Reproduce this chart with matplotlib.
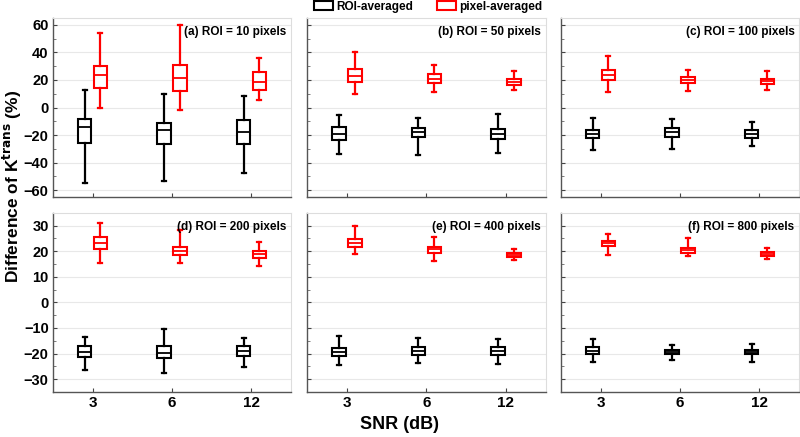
import matplotlib.pyplot as plt
from matplotlib.patches import Patch
from matplotlib.ticker import MultipleLocator

plt.rcParams['font.family'] = ['Liberation Sans', 'DejaVu Sans']
plt.rcParams['font.weight'] = 'bold'
plt.rcParams['mathtext.default'] = 'bf'

snr = ['3', '6', '12']
titles = ['(a) ROI = 10 pixels', '(b) ROI = 50 pixels', '(c) ROI = 100 pixels',
          '(d) ROI = 200 pixels', '(e) ROI = 400 pixels', '(f) ROI = 800 pixels']

# each box: [whisker low, q1, median, q3, whisker high], one per SNR
roi_avg = [
    [[-54.6, -26.0, -14.2, -8.0, 12.5], [-53.5, -26.8, -16.6, -11.0, 10.0], [-47.6, -26.5, -17.5, -9.3, 8.4]],
    [[-34.0, -23.9, -19.0, -14.2, -5.5], [-34.3, -21.2, -17.8, -14.6, -7.9], [-33.0, -23.1, -19.3, -15.6, -4.4]],
    [[-30.9, -22.2, -19.3, -16.1, -7.9], [-29.9, -21.2, -18.0, -14.6, -8.6], [-28.0, -22.4, -19.3, -16.4, -10.5]],
    [[-26.6, -21.4, -19.3, -17.2, -13.6], [-27.4, -21.9, -19.6, -17.0, -10.3], [-25.3, -20.9, -18.8, -17.2, -13.8]],
    [[-24.5, -20.9, -19.3, -17.9, -13.2], [-23.5, -20.5, -19.0, -17.5, -13.8], [-24.0, -20.7, -19.0, -17.6, -14.3]],
    [[-23.2, -20.1, -18.8, -17.6, -14.3], [-22.4, -20.3, -19.3, -18.4, -16.6], [-23.4, -20.2, -19.3, -18.5, -16.2]],
]
pix_avg = [
    [[0.0, 14.0, 23.4, 30.2, 54.2], [-1.8, 11.8, 21.2, 30.5, 60.0], [5.5, 12.7, 18.5, 25.8, 36.0]],
    [[10.1, 18.8, 22.9, 27.8, 40.6], [11.3, 17.6, 21.0, 24.1, 30.7], [12.5, 16.1, 18.5, 21.0, 26.5]],
    [[11.6, 19.8, 23.4, 27.0, 37.5], [11.8, 17.6, 20.0, 22.2, 27.3], [12.7, 16.9, 19.0, 20.7, 26.5]],
    [[15.3, 20.8, 23.1, 25.5, 30.9], [15.4, 18.4, 20.1, 21.7, 28.3], [14.2, 17.5, 18.8, 20.0, 23.5]],
    [[18.8, 21.5, 23.2, 24.8, 29.9], [16.2, 19.4, 20.9, 21.8, 25.7], [16.6, 17.7, 18.6, 19.4, 20.8]],
    [[18.5, 22.2, 23.1, 24.0, 26.8], [18.1, 19.4, 20.4, 21.3, 25.1], [16.8, 18.1, 18.9, 19.6, 21.3]],
]

fig = plt.figure(figsize=(8, 4.37), dpi=100)

lefts = [0.066, 0.384, 0.701]
bottoms = [0.549, 0.103]
w, h = 0.298, 0.410


def make_stats(boxes):
    out = []
    for b in boxes:
        out.append({'whislo': b[0], 'q1': b[1], 'med': b[2], 'q3': b[3], 'whishi': b[4], 'fliers': []})
    return out


for i in range(6):
    r, c = divmod(i, 3)
    ax = fig.add_axes([lefts[c], bottoms[r], w, h])
    for data, off, col in [(roi_avg[i], -0.1, 'black'), (pix_avg[i], 0.1, 'red')]:
        pos = [k + 1 + off for k in range(3)]
        ax.bxp(make_stats(data), positions=pos, widths=0.17, patch_artist=True,
               boxprops=dict(facecolor='white', edgecolor=col, linewidth=1.5),
               medianprops=dict(color=col, linewidth=1.3),
               whiskerprops=dict(color=col, linewidth=1.6),
               capprops=dict(color=col, linewidth=1.6), capwidths=0.05,
               showfliers=False, manage_ticks=False)
    ax.set_xlim(0.5, 3.5)
    ax.set_xticks([1, 2, 3])
    if r == 0:
        ax.set_ylim(-65, 65)
        ax.yaxis.set_major_locator(MultipleLocator(20))
        ax.yaxis.set_minor_locator(MultipleLocator(10))
        ax.set_xticklabels([])
    else:
        ax.set_ylim(-35, 35)
        ax.yaxis.set_major_locator(MultipleLocator(10))
        ax.yaxis.set_minor_locator(MultipleLocator(5))
        ax.set_xticklabels(snr, fontsize=11, fontweight='bold')
    if c != 0:
        ax.set_yticklabels([])
    else:
        for t in ax.get_yticklabels():
            t.set_fontsize(10.5)
            t.set_fontweight('bold')
    ax.tick_params(direction='in', length=3, width=0.8, colors='#444444', labelcolor='black', pad=3)
    ax.tick_params(which='minor', direction='in', length=2, width=0.6, colors='#666666')
    ax.grid(axis='y', color='#e8e8e8', linewidth=0.8)
    ax.set_axisbelow(True)
    for s in ['top', 'right']:
        ax.spines[s].set_color('#dddddd')
    for s in ['left', 'bottom']:
        ax.spines[s].set_color('#555555')
        ax.spines[s].set_linewidth(1.0)
    ax.text(0.98, 0.955, titles[i], transform=ax.transAxes, ha='right', va='top',
            fontsize=8.5, fontweight='bold')

handles = [Patch(facecolor='white', edgecolor='black', linewidth=1.5, label='ROI-averaged'),
           Patch(facecolor='white', edgecolor='red', linewidth=1.5, label='pixel-averaged')]
fig.legend(handles=handles, loc='center', bbox_to_anchor=(0.535, 0.985), ncol=2, frameon=False,
           prop={'size': 8.5, 'weight': 'bold'}, handlelength=1.6, handleheight=0.7,
           handletextpad=0.3, columnspacing=2.0)

fig.text(0.015, 0.574, 'Difference of K$^{trans}$ (%)', rotation=90, ha='center', va='center',
         fontsize=12.5, fontweight='bold')
fig.text(0.5, 0.028, 'SNR (dB)', ha='center', va='center', fontsize=13, fontweight='bold')

plt.savefig('out.png', dpi=100)
